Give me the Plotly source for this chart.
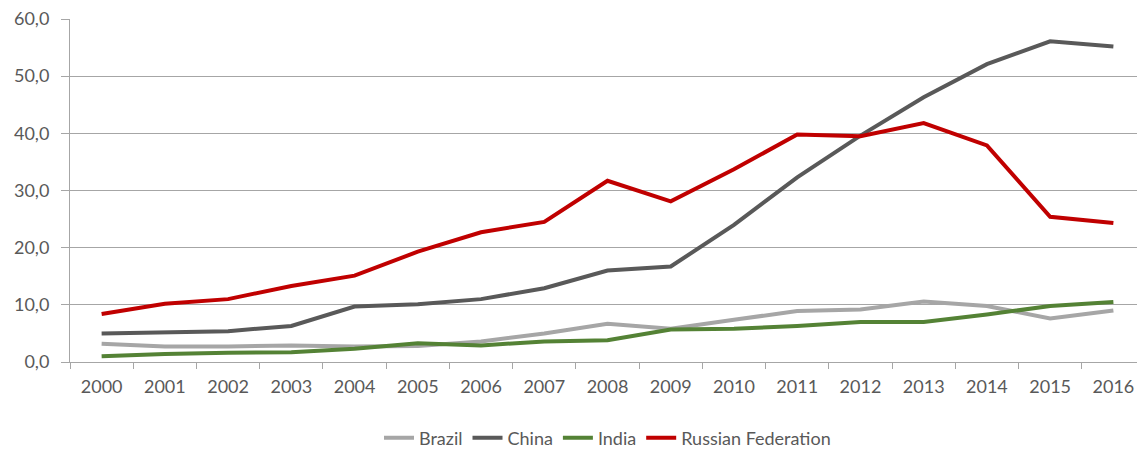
import plotly.graph_objects as go

years = [str(y) for y in range(2000, 2017)]
brazil = [3.2, 2.7, 2.7, 2.9, 2.7, 2.8, 3.6, 5.0, 6.7, 5.8, 7.4, 8.9, 9.2, 10.6, 9.8, 7.6, 9.0]
china = [5.0, 5.2, 5.4, 6.3, 9.7, 10.1, 11.0, 12.9, 16.0, 16.7, 24.0, 32.3, 39.6, 46.3, 52.1, 56.1, 55.2]
india = [1.0, 1.4, 1.6, 1.7, 2.3, 3.3, 2.9, 3.6, 3.8, 5.7, 5.8, 6.3, 7.0, 7.0, 8.3, 9.8, 10.5]
russia = [8.4, 10.2, 11.0, 13.3, 15.1, 19.3, 22.7, 24.5, 31.7, 28.1, 33.7, 39.8, 39.5, 41.8, 37.9, 25.4, 24.3]

series = [
    ("Brazil", brazil, "#A6A6A6"),
    ("China", china, "#595959"),
    ("India", india, "#548235"),
    ("Russian Federation", russia, "#C00000"),
]

font_family = "Lato, Open Sans, sans-serif"

fig = go.Figure()
for name, vals, color in series:
    fig.add_trace(go.Scatter(
        x=years, y=vals, name=name, mode="lines",
        line=dict(color=color, width=4),
    ))

# page body has an 8px margin, so the figure is sized/offset to compensate
fig.update_layout(
    width=1137, height=442,
    margin=dict(l=62, r=0, t=11, b=88, autoexpand=False),
    paper_bgcolor="white", plot_bgcolor="white",
    separators=", ",
    font=dict(family=font_family, size=18, color="#595959"),
    showlegend=True,
    legend=dict(orientation="h", x=0.5, xanchor="center",
                yref="container", y=0.027, yanchor="middle",
                font=dict(size=18, color="#595959"), itemwidth=30, tracegroupgap=0),
    xaxis=dict(
        type="category", range=[-0.5, 16.5], automargin=False,
        showgrid=False, showline=True, linecolor="#A6A6A6", linewidth=1,
        ticks="outside", tickson="boundaries", ticklen=6, tickcolor="#A6A6A6",
        tickfont=dict(size=18, color="#595959"), ticklabeloverflow="allow",
        ticklabelstandoff=8,
    ),
    yaxis=dict(
        range=[0, 60], dtick=10, tickformat=".1f", automargin=False,
        showgrid=True, gridcolor="#A6A6A6", gridwidth=1,
        showline=True, linecolor="#A6A6A6", linewidth=1,
        ticks="outside", ticklen=8, tickcolor="#A6A6A6",
        zeroline=False, ticklabeloverflow="allow",
        ticklabelstandoff=8,
        tickfont=dict(size=18, color="#595959"),
    ),
)

fig.write_html("out.html")
